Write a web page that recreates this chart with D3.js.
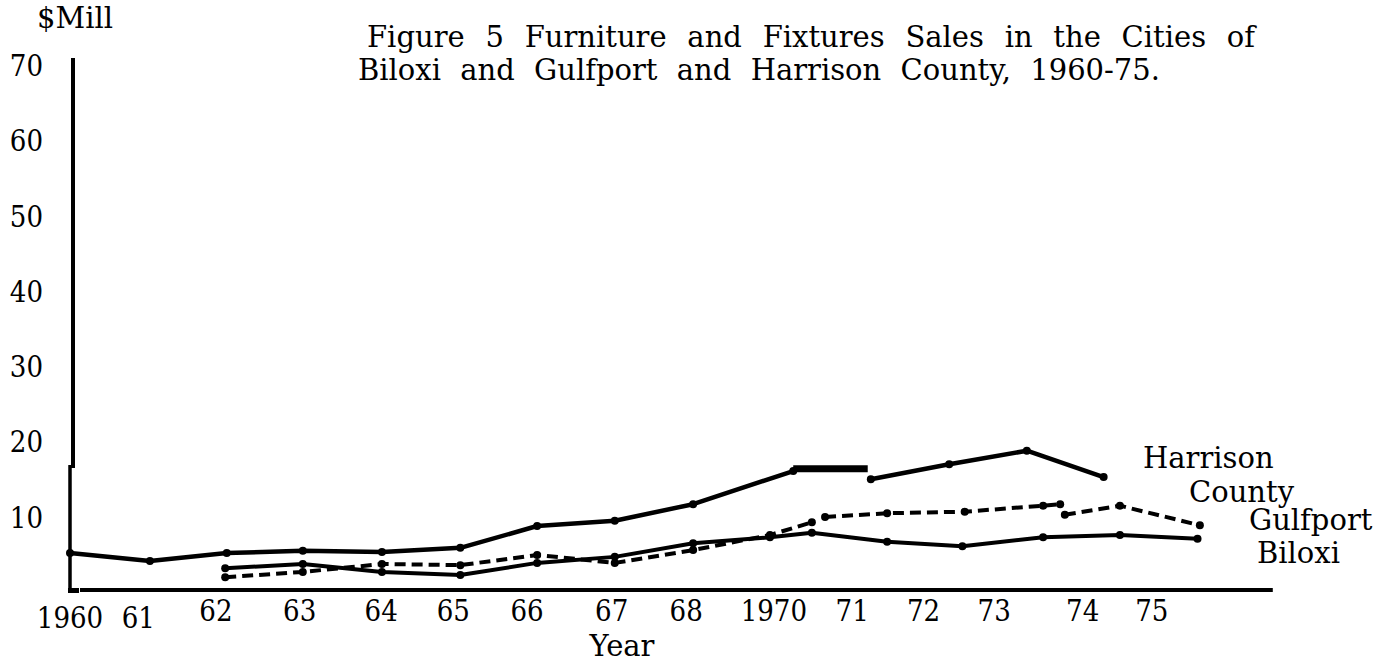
<!DOCTYPE html>
<html>
<head>
<meta charset="utf-8">
<script src="https://cdnjs.cloudflare.com/ajax/libs/d3/7.8.5/d3.min.js"></script>
<style>
  html, body { margin: 0; padding: 0; background: #fff; }
  svg { display: block; }
  text { fill: #000; font-family: "DejaVu Serif", serif; }
  .num { font-family: "DejaVu Serif Condensed", "DejaVu Serif", serif; font-stretch: condensed; }
</style>
</head>
<body>
<svg id="chart" width="1398" height="664"></svg>
<script>
'use strict';

// x positions are in "plot step" units (0 = 1960); the scan is uneven
const tickLabels = ['1960', '61', '62', '63', '64', '65', '66', '67', '68', '1970', '71', '72', '73', '74', '75'];
const tickPos = [0, 0.88, 1.88, 2.96, 4.01, 4.94, 5.89, 6.98, 7.94, 9.07, 10.08, 11.0, 11.91, 13.05, 13.94];
const yTicks = [10, 20, 30, 40, 50, 60, 70];

// Harrison County (solid, top) - NaN marks a break in the drawn line
const harrisonX = [0, 1.03, 2.02, 3.0, 4.02, 5.03, 6.02, 7.02, 8.03, 9.32, NaN, 10.32, 11.33, 12.33, 13.32];
const harrisonV = [4.9, 3.85, 4.9, 5.2, 5.05, 5.6, 8.5, 9.2, 11.4, 15.8, NaN, 14.7, 16.7, 18.5, 15.0];
// the pasted-in flat piece around 1970
const harrisonFlatX = [9.32, 10.28];
const harrisonFlatV = [16.1, 16.1];

// Gulfport (dashed)
const gulfportX = [2.0, 3.0, 4.02, 5.03, 6.02, 7.02, 8.03, 9.02, 9.56, NaN, 9.73, 10.53, 11.53, 12.54, 12.76, NaN, 12.82, 13.53, 14.56];
const gulfportV = [1.7, 2.4, 3.45, 3.3, 4.65, 3.6, 5.3, 7.3, 9.0, NaN, 9.7, 10.2, 10.4, 11.2, 11.4, NaN, 10.0, 11.2, 8.6];

// Biloxi (solid, lower)
const biloxiX = [2.0, 3.0, 4.02, 5.03, 6.02, 7.02, 8.03, 9.02, 9.56, 10.53, 11.5, 12.54, 13.53, 14.53];
const biloxiV = [2.9, 3.45, 2.4, 2.0, 3.6, 4.4, 6.2, 7.0, 7.6, 6.4, 5.8, 7.0, 7.3, 6.8];

const titleLines = [
  'Figure 5 Furniture and Fixtures Sales in the Cities of',
  'Biloxi and Gulfport and Harrison County, 1960-75.'
];

const svg = d3.select('#chart');

const x = d3.scaleLinear().domain([0, 15]).range([70, 1234]);
const y = d3.scaleLinear().domain([0, 70]).range([590, 63]);

const fontSize = 29;

// AXES
svg.append('line')
  .attr('x1', x(0) + 3).attr('x2', x(0) + 3)
  .attr('y1', y(70) - 5).attr('y2', y(16.2))
  .attr('stroke', '#000').attr('stroke-width', 4);
svg.append('line')
  .attr('x1', x(0)).attr('x2', x(0))
  .attr('y1', y(16.6)).attr('y2', y(0) + 2)
  .attr('stroke', '#000').attr('stroke-width', 3.5);
svg.append('line')
  .attr('x1', x(0) + 10).attr('x2', x(15.5))
  .attr('y1', y(0)).attr('y2', y(0))
  .attr('stroke', '#000').attr('stroke-width', 4);
svg.append('rect')
  .attr('x', x(0) - 2).attr('y', y(0) - 2)
  .attr('width', 11).attr('height', 5)
  .attr('fill', '#000');

svg.selectAll('.ytick')
  .data(yTicks)
  .enter()
  .append('text')
  .classed('ytick num', true)
  .attr('x', 43)
  .attr('y', d => y(d) + 13)
  .attr('text-anchor', 'end')
  .attr('font-size', fontSize)
  .text(d => d);

svg.selectAll('.xtick')
  .data(tickLabels)
  .enter()
  .append('text')
  .classed('xtick num', true)
  .attr('x', (d, i) => x(tickPos[i]))
  .attr('y', (d, i) => i < 2 ? 628 : 621)
  .attr('text-anchor', 'middle')
  .attr('font-size', fontSize)
  .text(d => d);

svg.append('text')
  .attr('x', 622).attr('y', 656)
  .attr('text-anchor', 'middle')
  .attr('font-size', fontSize)
  .text('Year');

svg.append('text')
  .attr('x', 37).attr('y', 28)
  .attr('font-size', fontSize)
  .text('$Mill');

// TITLE, spread to the width of the scanned lines
const titleBox = [
  { x0: 367, x1: 1255, y: 47 },
  { x0: 358, x1: 1160, y: 80 }
];
titleLines.forEach((line, li) => {
  const box = titleBox[li];
  const t = svg.append('text')
    .attr('x', box.x0)
    .attr('y', box.y)
    .attr('font-size', fontSize)
    .text(line);
  const natural = t.node().getComputedTextLength();
  const spaces = line.split(' ').length - 1;
  t.attr('word-spacing', Math.max(0, (box.x1 - box.x0 - natural) / spaces));
});

// SERIES
const toPoints = (xs, vs) => xs.map((u, i) => ({ u, v: vs[i] }));
const line = d3.line()
  .defined(d => !isNaN(d.u))
  .x(d => x(d.u))
  .y(d => y(d.v));

const series = [
  { key: 'Harrison', pts: toPoints(harrisonX, harrisonV), dash: null, width: 4.5 },
  { key: 'Gulfport', pts: toPoints(gulfportX, gulfportV), dash: '11,6', width: 4 },
  { key: 'Biloxi', pts: toPoints(biloxiX, biloxiV), dash: null, width: 4 }
];

series.forEach(s => {
  svg.append('path')
    .attr('d', line(s.pts))
    .attr('fill', 'none')
    .attr('stroke', '#000')
    .attr('stroke-width', s.width)
    .attr('stroke-linejoin', 'round')
    .attr('stroke-dasharray', s.dash);

  svg.selectAll(null)
    .data(s.pts.filter(d => !isNaN(d.u)))
    .enter()
    .append('circle')
    .attr('cx', d => x(d.u))
    .attr('cy', d => y(d.v))
    .attr('r', 4)
    .attr('fill', '#000');
});

svg.append('path')
  .attr('d', line(toPoints(harrisonFlatX, harrisonFlatV)))
  .attr('stroke', '#000')
  .attr('stroke-width', 7);

// series labels
const labels = [
  { text: 'Harrison', x: 1143, y: 468 },
  { text: 'County', x: 1189, y: 502 },
  { text: 'Gulfport', x: 1249, y: 530 },
  { text: 'Biloxi', x: 1257, y: 563 }
];
svg.selectAll('.series-label')
  .data(labels)
  .enter()
  .append('text')
  .classed('series-label', true)
  .attr('x', d => d.x)
  .attr('y', d => d.y)
  .attr('font-size', fontSize)
  .text(d => d.text);
</script>
</body>
</html>
